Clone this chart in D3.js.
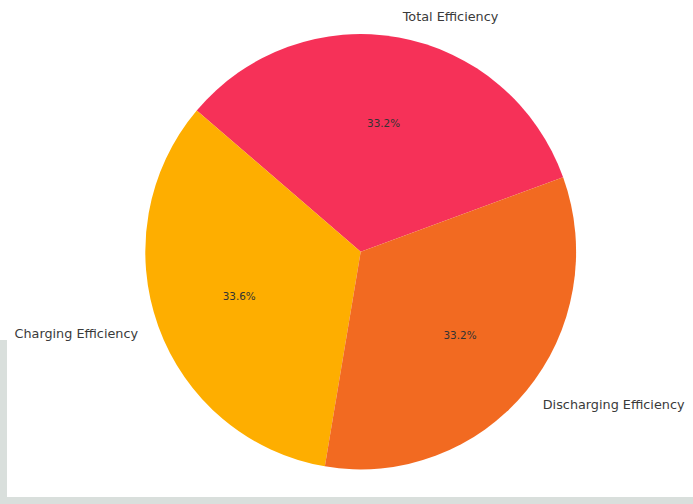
<!DOCTYPE html>
<html>
<head>
<meta charset="utf-8">
<script src="https://cdn.jsdelivr.net/npm/d3@7"></script>
<style>
  html, body { margin: 0; padding: 0; background: #ffffff; }
  svg { display: block; }
</style>
</head>
<body>
<svg id="chart" width="693" height="504"></svg>
<script>
// Wedge data, in drawing order (counter-clockwise from the start angle)
const categories = ["Total Efficiency", "Charging Efficiency", "Discharging Efficiency"];
const values = [94, 95, 94];
const colors = ["#f63158", "#feae00", "#f26a21"];

const W = 693, H = 504;
const cx = 360.7, cy = 251.7;
const R = 215.4;          // horizontal radius
const yStretch = 1.0107;  // the figure is very slightly taller than wide
const startDeg = 20;      // first wedge starts 20° above the +x axis

const svg = d3.select("#chart");

// frame strip along the lower-left edge
svg.append("rect").attr("x", 0).attr("y", 340).attr("width", 7).attr("height", H - 340).attr("fill", "#d9dfdc");
svg.append("rect").attr("x", 0).attr("y", 497).attr("width", W).attr("height", H - 497).attr("fill", "#d9dfdc");

// d3 angles are clockwise from 12 o'clock; convert a counter-clockwise math angle
const toD3 = deg => (90 - deg) * Math.PI / 180;

const total = d3.sum(values);
const pie = d3.pie()
  .sort(null)
  .value(d => d)
  .startAngle(toD3(startDeg))
  .endAngle(toD3(startDeg) - 2 * Math.PI);

const arcs = pie(values);
const arc = d3.arc().innerRadius(0).outerRadius(R);

svg.append("g")
  .attr("transform", `translate(${cx},${cy}) scale(1,${yStretch})`)
  .selectAll("path.wedge")
  .data(arcs)
  .join("path")
  .attr("class", "wedge")
  .attr("d", arc)
  .attr("fill", (d, i) => colors[i]);

const mid = d => (d.startAngle + d.endAngle) / 2;
const px = (d, k) => cx + k * R * Math.sin(mid(d));
const py = (d, k) => cy - k * R * yStretch * Math.cos(mid(d));

// percentage labels at 0.6 R
svg.selectAll("text.pct")
  .data(arcs)
  .join("text")
  .attr("class", "pct")
  .attr("x", d => px(d, 0.6))
  .attr("y", d => py(d, 0.6))
  .attr("text-anchor", "middle")
  .attr("dominant-baseline", "central")
  .attr("font-family", "DejaVu Sans, sans-serif")
  .attr("font-size", 10.4)
  .attr("fill", "#333333")
  .text(d => d3.format(".1f")(d.value / total * 100) + "%");

// category labels at 1.1 R
svg.selectAll("text.lab")
  .data(arcs)
  .join("text")
  .attr("class", "lab")
  .attr("x", d => px(d, 1.1))
  .attr("y", d => py(d, 1.1))
  .attr("text-anchor", d => Math.sin(mid(d)) >= 0 ? "start" : "end")
  .attr("dominant-baseline", "central")
  .attr("font-family", "DejaVu Sans, sans-serif")
  .attr("font-size", 12.8)
  .attr("fill", "#3a3a3a")
  .text((d, i) => categories[i]);
</script>
</body>
</html>
